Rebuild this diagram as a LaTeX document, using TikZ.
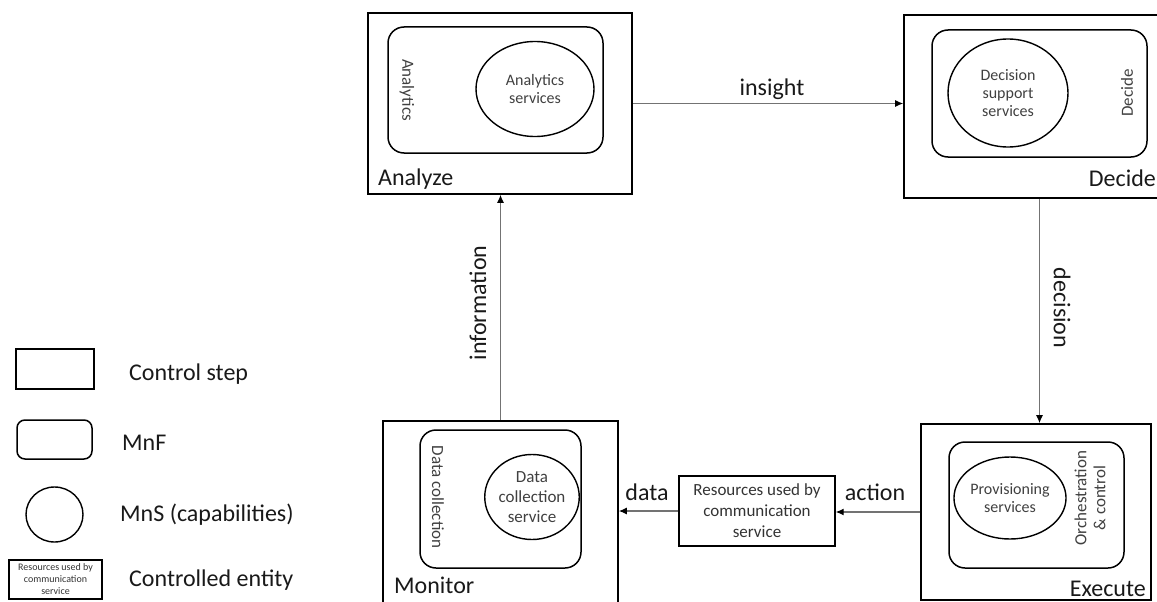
\documentclass[tikz,border=0pt]{standalone}
\usepackage{fontspec}
\setmainfont{Carlito}
\usetikzlibrary{arrows.meta,shapes.geometric}
\begin{document}
\begin{tikzpicture}[x=1pt,y=-1pt,
  mnfbox/.style={draw=black,line width=1.5pt,rounded corners=16pt},
  mnsell/.style={draw=black,line width=1.4pt,ellipse,inner sep=0pt,align=center,text=black!75,font=\fontsize{16}{18}\selectfont},
  biglbl/.style={font=\fontsize{24}{26}\selectfont,text=black!90,inner sep=0pt},
  midlbl/.style={font=\fontsize{17}{19}\selectfont,text=black!75,inner sep=0pt,align=center},
  arr/.style={draw=black!55,line width=1.2pt,-{Latex[color=black,length=8pt,width=7pt]}},
  ce/.style={draw=black,line width=1.4pt,align=center,inner sep=0pt,text=black!80}
]
\useasboundingbox (0,0) rectangle (1157,602);
\begin{scope}
\clip (0,0) rectangle (1157,602);
% Analyze
\node[draw=black,line width=1.6pt,minimum width=264pt,minimum height=181pt,inner sep=0pt] (A) at (500,103.5) {};
\node[mnfbox,minimum width=215pt,minimum height=126pt,inner sep=0pt] (Af) at (495.5,90) {};
\node[mnsell,minimum width=118pt,minimum height=95pt] (As) at (535,89) {Analytics\\services};
\node[midlbl,rotate=-90] (At) at (407,90) {Analytics};
\node[biglbl,anchor=base west] (Al) at (378,185) {Analyze};
% Decide
\node[draw=black,line width=1.6pt,minimum width=271pt,minimum height=183pt,inner sep=0pt] (D) at (1039.5,106.5) {};
\node[mnfbox,minimum width=215pt,minimum height=127pt,inner sep=0pt] (Df) at (1039.5,93.5) {};
\node[mnsell,minimum width=120pt,minimum height=108pt] (Ds) at (1008,93) {Decision\\support\\services};
\node[midlbl,rotate=90] (Dt) at (1127,93) {Decide};
\node[biglbl,anchor=base east] (Dl) at (1156,186) {Decide};
% Execute
\node[draw=black,line width=1.6pt,minimum width=230pt,minimum height=176pt,inner sep=0pt] (E) at (1036,512) {};
\node[mnfbox,minimum width=175pt,minimum height=126pt,inner sep=0pt] (Ef) at (1036.5,505) {};
\node[mnsell,minimum width=82pt,minimum height=82pt] (Es) at (1010,498) {Provisioning\\services};
\node[midlbl,rotate=90] (Et) at (1090,498) {Orchestration\\\& control};
\node[biglbl,anchor=base east] (El) at (1146,596) {Execute};
% Monitor
\node[draw=black,line width=1.6pt,minimum width=235pt,minimum height=199pt,inner sep=0pt] (M) at (500.5,520.5) {};
\node[mnfbox,minimum width=161pt,minimum height=138pt,inner sep=0pt] (Mf) at (500.5,499) {};
\node[mnsell,minimum width=84pt,minimum height=85pt,font=\fontsize{17}{20}\selectfont] (Ms) at (532,497) {Data\\collection\\service};
\node[midlbl,rotate=-90] (Mt) at (438,497) {Data collection};
\node[biglbl,anchor=base west] (Ml) at (394,593) {Monitor};
% Controlled entity
\node[ce,minimum width=156pt,minimum height=70pt,font=\fontsize{17}{21}\selectfont] (R) at (757,511) {Resources used by\\communication\\service};
\end{scope}
% connectors
\draw[arr] (A.east) -- (A.east -| D.west);
\draw[arr] (D.south) -- (D.south |- E.north);
\draw[arr] (E.west) -- (E.west -| R.east);
\draw[arr] (R.west) -- (R.west -| M.east);
\draw[arr] (M.north) -- (M.north |- A.south);
\node[biglbl] (li) at (772,89) {insight};
\node[biglbl,rotate=-90] (ld) at (1062,308) {decision};
\node[biglbl] (la) at (875,492) {action};
\node[biglbl] (lda) at (647,492) {data};
\node[biglbl,rotate=90] (lin) at (478,303) {information};
% Legend
\node[draw=black,line width=1.5pt,minimum width=78pt,minimum height=40pt,inner sep=0pt] (L1) at (55,369) {};
\node[biglbl,anchor=west] (L1t) at (129,374) {Control step};
\node[draw=black,line width=1.5pt,rounded corners=8pt,minimum width=75pt,minimum height=39pt,inner sep=0pt] (L2) at (54.5,439.5) {};
\node[biglbl,anchor=west] (L2t) at (122,443) {MnF};
\node[draw=black,line width=1.4pt,ellipse,minimum width=57pt,minimum height=55pt,inner sep=0pt] (L3) at (54.5,514.5) {};
\node[biglbl,anchor=west] (L3t) at (120,515) {MnS (capabilities)};
\node[ce,minimum width=93pt,minimum height=39pt,font=\fontsize{10}{12}\selectfont] (L4) at (55.5,579.5) {Resources used by\\communication\\service};
\node[biglbl,anchor=west] (L4t) at (129,580) {Controlled entity};
\end{tikzpicture}
\end{document}
